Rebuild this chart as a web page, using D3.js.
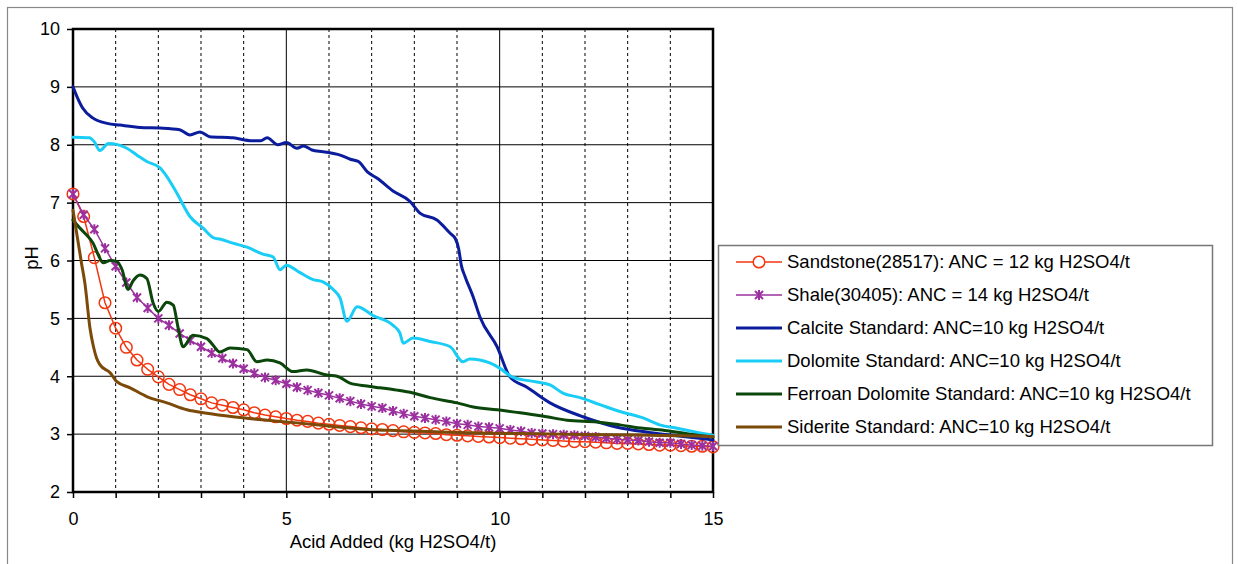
<!DOCTYPE html>
<html>
<head>
<meta charset="utf-8">
<script src="https://cdn.jsdelivr.net/npm/d3@7"></script>
<style>
  body { margin: 0; background: #fff; }
  text { font-family: "Liberation Sans", Arial, sans-serif; }
</style>
</head>
<body>
<div id="chart"></div>
<script>
const xTicks = [0, 1, 2, 3, 4, 5, 6, 7, 8, 9, 10, 11, 12, 13, 14, 15]
const xLabels = [0, 5, 10, 15]
const yTicks = [2, 3, 4, 5, 6, 7, 8, 9, 10]

const markerX = [0, 0.25, 0.5, 0.75, 1, 1.25, 1.5, 1.75, 2, 2.25, 2.5, 2.75, 3, 3.25, 3.5, 3.75,
  4, 4.25, 4.5, 4.75, 5, 5.25, 5.5, 5.75, 6, 6.25, 6.5, 6.75, 7, 7.25, 7.5, 7.75,
  8, 8.25, 8.5, 8.75, 9, 9.25, 9.5, 9.75, 10, 10.25, 10.5, 10.75, 11, 11.25, 11.5, 11.75,
  12, 12.25, 12.5, 12.75, 13, 13.25, 13.5, 13.75, 14, 14.25, 14.5, 14.75, 15]

const sandstonePH = [7.15, 6.76, 6.05, 5.27, 4.83, 4.5, 4.28, 4.12, 3.99, 3.86, 3.77, 3.68, 3.61, 3.54, 3.5, 3.46,
  3.42, 3.37, 3.33, 3.3, 3.27, 3.24, 3.22, 3.19, 3.17, 3.15, 3.13, 3.11, 3.09, 3.08, 3.06, 3.04,
  3.03, 3.02, 3.01, 2.99, 2.98, 2.97, 2.96, 2.95, 2.94, 2.93, 2.92, 2.91, 2.9, 2.89, 2.88, 2.87,
  2.87, 2.86, 2.85, 2.84, 2.84, 2.83, 2.82, 2.81, 2.81, 2.8, 2.79, 2.79, 2.78]

const shalePH = [7.15, 6.79, 6.54, 6.21, 5.9, 5.62, 5.36, 5.18, 5.0, 4.88, 4.74, 4.62, 4.51, 4.4, 4.31, 4.22,
  4.13, 4.05, 3.98, 3.93, 3.87, 3.81, 3.76, 3.71, 3.67, 3.62, 3.57, 3.52, 3.48, 3.45, 3.4, 3.35,
  3.31, 3.28, 3.25, 3.22, 3.18, 3.16, 3.13, 3.12, 3.1, 3.07, 3.05, 3.02, 3.01, 3.0, 2.99, 2.98,
  2.97, 2.95, 2.93, 2.91, 2.9, 2.89, 2.87, 2.85, 2.85, 2.83, 2.81, 2.8, 2.79]

const calcite = [[0, 9.0], [0.1, 8.82], [0.23, 8.63], [0.47, 8.46], [0.8, 8.37], [1.1, 8.34], [1.57, 8.3],
  [2.04, 8.29], [2.5, 8.26], [2.74, 8.17], [2.98, 8.22], [3.2, 8.14], [3.75, 8.12], [4.2, 8.07], [4.4, 8.07],
  [4.55, 8.12], [4.8, 8.0], [5.0, 8.04], [5.25, 7.94], [5.4, 7.98], [5.6, 7.91], [5.86, 7.88], [6.26, 7.82],
  [6.5, 7.75], [6.69, 7.71], [6.9, 7.53], [7.13, 7.42], [7.5, 7.2], [7.9, 7.02], [8.13, 6.82], [8.53, 6.7],
  [8.84, 6.47], [8.96, 6.38], [9.04, 6.2], [9.1, 5.92], [9.19, 5.72], [9.38, 5.37], [9.54, 5.02], [9.94, 4.51],
  [10.24, 3.99], [10.64, 3.81], [11.18, 3.54], [11.95, 3.3], [12.75, 3.12], [13.5, 3.03], [14.3, 2.96], [15, 2.9]]

const dolomite = [[0, 8.13], [0.38, 8.12], [0.5, 8.05], [0.63, 7.9], [0.83, 8.02], [1.26, 7.94], [1.5, 7.82],
  [1.73, 7.71], [2.04, 7.6], [2.2, 7.45], [2.43, 7.17], [2.74, 6.76], [3.05, 6.56], [3.3, 6.39], [3.44, 6.37],
  [3.75, 6.3], [4.08, 6.23], [4.45, 6.11], [4.69, 6.06], [4.85, 5.84], [5.0, 5.92], [5.3, 5.8], [5.63, 5.67],
  [5.86, 5.63], [6.1, 5.5], [6.26, 5.35], [6.42, 4.95], [6.66, 5.2], [7.03, 5.05], [7.5, 4.88], [7.66, 4.75],
  [7.74, 4.57], [7.97, 4.66], [8.37, 4.6], [8.84, 4.51], [9.14, 4.25], [9.3, 4.3], [9.77, 4.23], [10.0, 4.14],
  [10.29, 3.99], [10.87, 3.9], [11.18, 3.85], [11.48, 3.71], [11.88, 3.63], [12.35, 3.51], [12.82, 3.39],
  [13.36, 3.28], [13.75, 3.16], [14.16, 3.1], [14.7, 3.02], [15, 2.98]]

const ferroan = [[0, 6.7], [0.16, 6.56], [0.32, 6.44], [0.47, 6.3], [0.59, 6.1], [0.71, 5.96], [0.87, 6.0],
  [1.03, 5.98], [1.15, 5.84], [1.29, 5.5], [1.41, 5.65], [1.57, 5.75], [1.73, 5.69], [1.88, 5.26], [2.0, 5.12],
  [2.2, 5.28], [2.35, 5.23], [2.46, 4.85], [2.58, 4.51], [2.81, 4.71], [3.14, 4.65], [3.28, 4.54], [3.44, 4.42],
  [3.68, 4.49], [4.08, 4.46], [4.31, 4.25], [4.55, 4.28], [4.85, 4.23], [5.16, 4.08], [5.48, 4.11], [5.95, 4.02],
  [6.19, 4.0], [6.49, 3.88], [6.89, 3.83], [7.2, 3.8], [7.59, 3.76], [7.97, 3.71], [8.37, 3.63], [9.0, 3.54],
  [9.38, 3.47], [9.94, 3.42], [10.48, 3.37], [11.1, 3.3], [11.58, 3.24], [12.28, 3.21], [12.82, 3.16],
  [13.36, 3.1], [13.92, 3.06], [14.46, 3.0], [15, 2.95]]

const siderite = [[0, 6.87], [0.2, 5.95], [0.28, 5.6], [0.4, 4.82], [0.48, 4.51], [0.55, 4.32], [0.63, 4.2],
  [0.87, 4.06], [1.02, 3.91], [1.34, 3.8], [1.73, 3.65], [2.2, 3.54], [2.67, 3.42], [3.14, 3.36], [3.75, 3.3],
  [4.55, 3.24], [5.32, 3.19], [6.1, 3.13], [6.89, 3.08], [7.66, 3.06], [8.5, 3.04], [9.5, 3.02], [10.5, 3.01],
  [11.5, 3.0], [12.5, 2.99], [13.5, 2.98], [14.3, 2.97], [15, 2.96]]

const seriesNames = [
  "Sandstone(28517): ANC = 12 kg H2SO4/t",
  "Shale(30405): ANC = 14 kg H2SO4/t",
  "Calcite Standard: ANC=10 kg H2SO4/t",
  "Dolomite Standard: ANC=10 kg H2SO4/t",
  "Ferroan Dolomite Standard: ANC=10 kg H2SO4/t",
  "Siderite Standard: ANC=10 kg H2SO4/t"
]

const width = 1238,
      height = 564,
      margin = {top: 29, right: 525, bottom: 72, left: 73}

const series = [
  {name: seriesNames[0], data: markerX.map((x, i) => [x, sandstonePH[i]]), color: "#f2360f", w: 1.5, marker: "circle", curve: d3.curveLinear},
  {name: seriesNames[1], data: markerX.map((x, i) => [x, shalePH[i]]), color: "#9b309f", w: 1.5, marker: "star", curve: d3.curveLinear},
  {name: seriesNames[2], data: calcite, color: "#0b1d9c", w: 3, curve: d3.curveMonotoneX},
  {name: seriesNames[3], data: dolomite, color: "#19cdf6", w: 3, curve: d3.curveMonotoneX},
  {name: seriesNames[4], data: ferroan, color: "#0b460b", w: 3, curve: d3.curveMonotoneX},
  {name: seriesNames[5], data: siderite, color: "#7c4a08", w: 3, curve: d3.curveMonotoneX}
]

let x = d3.scaleLinear()
    .domain([0, 15])
    .range([margin.left, width - margin.right])

let y = d3.scaleLinear()
    .domain([2, 10])
    .range([height - margin.bottom, margin.top])

const svg = d3.select("#chart")
  .append("svg")
  .attr("width", width)
  .attr("height", height)

svg.append("rect")
  .attr("x", 7.5).attr("y", 7.5)
  .attr("width", 1225).attr("height", 600)
  .attr("fill", "none")
  .attr("stroke", "#888")
  .attr("stroke-width", 1.2)

svg.append("g")
  .selectAll("line")
  .data(yTicks)
  .join("line")
    .attr("x1", margin.left).attr("x2", width - margin.right)
    .attr("y1", d => y(d)).attr("y2", d => y(d))
    .attr("stroke", "#000")
    .attr("stroke-width", 1)

svg.append("g")
  .selectAll("line")
  .data(xTicks.filter(d => d > 0 && d < 15))
  .join("line")
    .attr("x1", d => x(d)).attr("x2", d => x(d))
    .attr("y1", margin.top).attr("y2", height - margin.bottom)
    .attr("stroke", "#000")
    .attr("stroke-width", 1)
    .attr("stroke-dasharray", d => d % 5 === 0 ? null : "3,3")

svg.append("g")
  .attr("transform", `translate(0,${height - margin.bottom})`)
  .call(d3.axisBottom(x).tickValues(xTicks).tickSize(6).tickPadding(14)
    .tickFormat(d => xLabels.includes(d) ? d : ""))
  .call(g => g.select(".domain").remove())
  .call(g => g.selectAll(".tick line").attr("stroke-width", 1.5))
  .call(g => g.selectAll("text").attr("font-size", 18).attr("fill", "#000")
    .attr("font-family", "Liberation Sans, Arial, sans-serif"))

svg.append("g")
  .attr("transform", `translate(${margin.left},0)`)
  .call(d3.axisLeft(y).tickValues(yTicks).tickSize(6).tickPadding(7))
  .call(g => g.select(".domain").remove())
  .call(g => g.selectAll(".tick line").attr("stroke-width", 1.5))
  .call(g => g.selectAll("text").attr("font-size", 18).attr("fill", "#000")
    .attr("font-family", "Liberation Sans, Arial, sans-serif"))

svg.append("rect")
  .attr("x", margin.left).attr("y", margin.top)
  .attr("width", width - margin.right - margin.left)
  .attr("height", height - margin.bottom - margin.top)
  .attr("fill", "none")
  .attr("stroke", "#000")
  .attr("stroke-width", 2.5)

const line = d3.line()
  .x(d => x(d[0]))
  .y(d => y(d[1]))

series.forEach(s => {
  svg.append("path")
    .datum(s.data)
    .attr("fill", "none")
    .attr("stroke", s.color)
    .attr("stroke-width", s.w)
    .attr("stroke-linejoin", "round")
    .attr("stroke-linecap", "round")
    .attr("d", line.curve(s.curve))

  if (s.marker === "circle") {
    svg.append("g")
      .selectAll("circle")
      .data(s.data)
      .join("circle")
        .attr("cx", d => x(d[0]))
        .attr("cy", d => y(d[1]))
        .attr("r", 5.8)
        .attr("fill", "none")
        .attr("stroke", s.color)
        .attr("stroke-width", 1.5)
  }
  if (s.marker === "star") {
    svg.append("g")
      .selectAll("path")
      .data(s.data)
      .join("path")
        .attr("transform", d => `translate(${x(d[0])},${y(d[1])})`)
        .attr("d", "M-4,-4L4,4M-4,4L4,-4M0,-5L0,5")
        .attr("fill", "none")
        .attr("stroke", s.color)
        .attr("stroke-width", 2)
  }
})

svg.append("text")
  .attr("x", x(7.5))
  .attr("y", 548)
  .attr("text-anchor", "middle")
  .attr("font-size", 18.5)
  .text("Acid Added (kg H2SO4/t)")

svg.append("text")
  .attr("transform", "translate(38,258) rotate(-90)")
  .attr("text-anchor", "middle")
  .attr("font-size", 18.5)
  .text("pH")

const legend = svg.append("g")

legend.append("rect")
  .attr("x", 718.5).attr("y", 245.5)
  .attr("width", 494).attr("height", 200)
  .attr("fill", "#fff")
  .attr("stroke", "#777")
  .attr("stroke-width", 1.5)

series.forEach((s, i) => {
  const ly = 262 + i * 33
  const row = legend.append("g").attr("transform", `translate(0,${ly})`)
  row.append("line")
    .attr("x1", 736).attr("x2", 782)
    .attr("stroke", s.color)
    .attr("stroke-width", s.w)
  if (s.marker === "circle") {
    row.append("circle")
      .attr("cx", 759).attr("r", 5.8)
      .attr("fill", "#fff")
      .attr("stroke", s.color)
      .attr("stroke-width", 1.5)
  }
  if (s.marker === "star") {
    row.append("path")
      .attr("transform", "translate(759,0)")
      .attr("d", "M-4,-4L4,4M-4,4L4,-4M0,-5L0,5")
      .attr("stroke", s.color)
      .attr("stroke-width", 2)
  }
  row.append("text")
    .attr("x", 787)
    .attr("dy", "0.35em")
    .attr("font-size", 18.5)
    .text(s.name)
})
</script>
</body>
</html>
